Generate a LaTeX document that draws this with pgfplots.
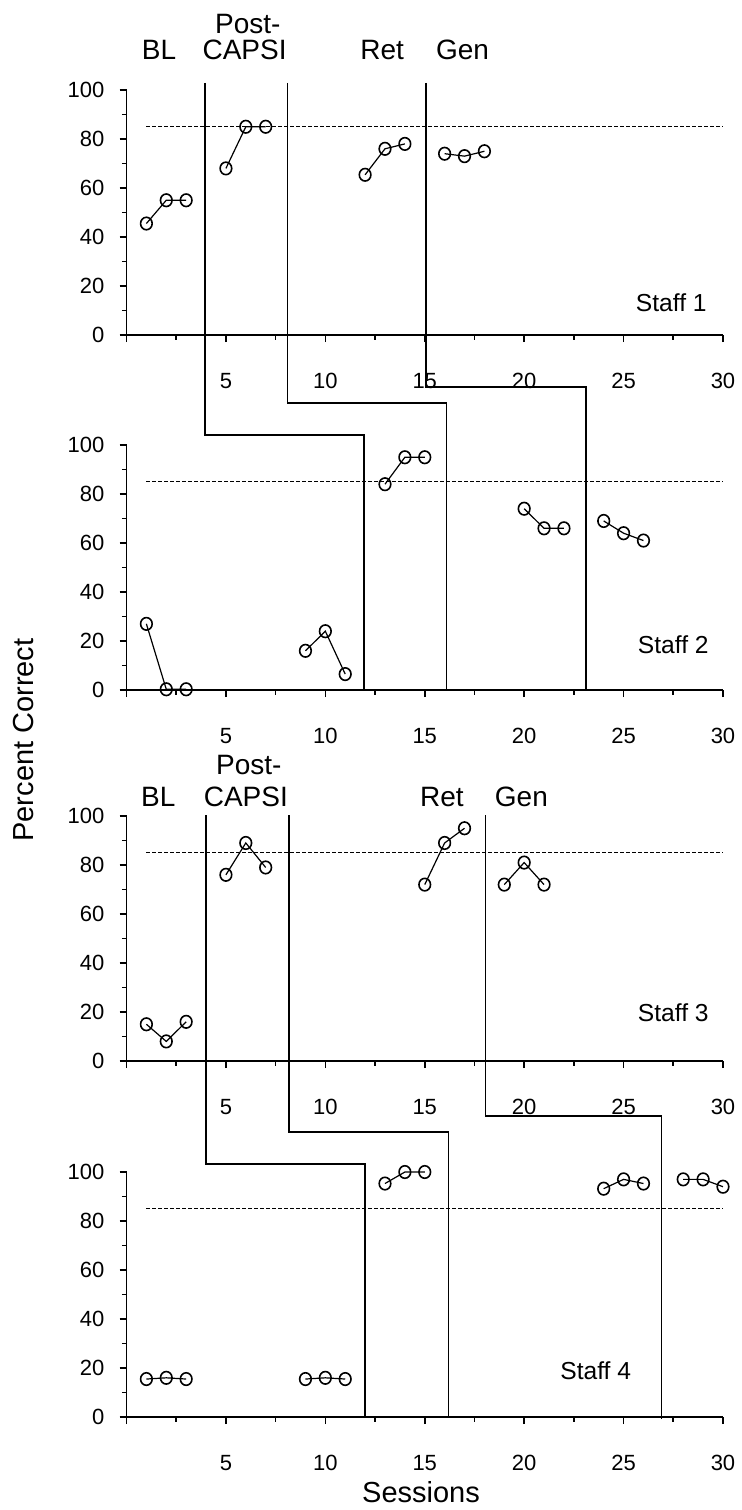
\documentclass[border=0pt]{standalone}
\usepackage{fontspec}
\setmainfont{Liberation Sans}
\usepackage{pgfplots}
\pgfplotsset{compat=1.18}

\newcommand\phasefont{\fontsize{14}{16}\selectfont}
\newcommand\stafffont{\fontsize{12.3}{14}\selectfont}
\newcommand\labfont{\fontsize{14.5}{17}\selectfont}

\tikzset{phase/.style={black, line width=0.8pt}}
\pgfplotsset{
  msb/.style={
    scale only axis, width=298.25pt, height=122.5pt,
    anchor=south west, clip=false,
    xmin=0, xmax=30, ymin=0, ymax=100,
    axis lines*=left, axis line style={line width=0.9pt},
    tick align=outside, tick style={black, line width=0.8pt},
    major tick length=3.5pt, minor tick length=2.3pt,
    xtick={0,5,...,30}, xticklabels={,5,10,15,20,25,30},
    minor xtick={2.5,7.5,...,27.5},
    ytick={0,20,...,100}, minor ytick={10,30,...,90},
    /pgf/number format/assume math mode=true,
    tick label style={font=\fontsize{11}{13}\selectfont},
    xticklabel style={anchor=base, yshift=-23pt},
    yticklabel style={anchor=east, xshift=-4pt},
  },
  pts/.style={black, line width=0.6pt, mark=o, mark size=2.9pt,
    mark options={solid, line width=0.8pt, yscale=1.08}},
  crit/.style={black, line width=0.55pt, dash pattern=on 2pt off 1pt},
}

\begin{document}
\begin{tikzpicture}
\useasboundingbox (0pt,0pt) rectangle (371pt,-755pt);

% ---- Staff 1 ----
\begin{axis}[msb, at={(63.25pt,-167.5pt)}]
\addplot[crit] coordinates {(1,85) (30,85)};
\addplot[pts] coordinates {(1,45.5) (2,55) (3,55)};
\addplot[pts] coordinates {(5,68) (6,85) (7,85)};
\addplot[pts] coordinates {(12,65.4) (13,76) (14,78)};
\addplot[pts] coordinates {(16,74) (17,73) (18,75)};
\node[anchor=base, font=\phasefont] at (axis cs:1.64,112.5) {BL};
\node[anchor=base, font=\phasefont] at (axis cs:6.1,123) {Post-};
\node[anchor=base, font=\phasefont] at (axis cs:5.94,112.5) {CAPSI};
\node[anchor=base, font=\phasefont] at (axis cs:12.86,112.5) {Ret};
\node[anchor=base, font=\phasefont] at (axis cs:16.9,112.5) {Gen};
\node[anchor=base, font=\stafffont] at (axis cs:27.4,9.5) {Staff 1};
\end{axis}

% ---- Staff 2 ---- (phase lines start in panel 1: +144.9 units up)
\begin{axis}[msb, at={(63.25pt,-345pt)}]
\addplot[crit] coordinates {(1,85) (30,85)};
\addplot[pts] coordinates {(1,27) (2,0.3) (3,0.3)};
\addplot[pts] coordinates {(9,16) (10,24) (11,6.5)};
\addplot[pts] coordinates {(13,84) (14,95) (15,95)};
\addplot[pts] coordinates {(20,74) (21,66) (22,66)};
\addplot[pts] coordinates {(24,69) (25,64) (26,61)};
\draw[phase] (axis cs:3.95,247.8) |- (axis cs:11.95,104.1) -- (axis cs:11.95,0);
\draw[phase] (axis cs:8.1,247.8) |- (axis cs:16.1,117.1) -- (axis cs:16.1,0);
\draw[phase] (axis cs:15.05,247.8) |- (axis cs:23.1,123.7) -- (axis cs:23.1,0);
\node[anchor=base, font=\stafffont] at (axis cs:27.5,15.1) {Staff 2};
\end{axis}

% ---- Staff 3 ----
\begin{axis}[msb, at={(63.25pt,-530.5pt)}]
\addplot[crit] coordinates {(1,85) (30,85)};
\addplot[pts] coordinates {(1,15) (2,8) (3,16)};
\addplot[pts] coordinates {(5,76) (6,89) (7,79)};
\addplot[pts] coordinates {(15,72) (16,89) (17,95)};
\addplot[pts] coordinates {(19,72) (20,81) (21,72)};
\node[anchor=base, font=\phasefont] at (axis cs:1.6,103.8) {BL};
\node[anchor=base, font=\phasefont] at (axis cs:6.15,117) {Post-};
\node[anchor=base, font=\phasefont] at (axis cs:6.0,103.8) {CAPSI};
\node[anchor=base, font=\phasefont] at (axis cs:15.86,103.8) {Ret};
\node[anchor=base, font=\phasefont] at (axis cs:19.86,103.8) {Gen};
\node[anchor=base, font=\stafffont] at (axis cs:27.5,16) {Staff 3};
\end{axis}

% ---- Staff 4 ---- (phase lines start in panel 3: +145.3 units up)
\begin{axis}[msb, at={(63.25pt,-708.5pt)}]
\addplot[crit] coordinates {(1,85) (30,85)};
\addplot[pts] coordinates {(1,15.5) (2,16) (3,15.5)};
\addplot[pts] coordinates {(9,15.5) (10,16) (11,15.5)};
\addplot[pts] coordinates {(13,95.3) (14,100) (15,100)};
\addplot[pts] coordinates {(24,93.2) (25,97) (26,95.3)};
\addplot[pts] coordinates {(28,97) (29,97) (30,94)};
\draw[phase] (axis cs:4.0,245.7) |- (axis cs:12.0,103.3) -- (axis cs:12.0,0);
\draw[phase] (axis cs:8.17,245.7) |- (axis cs:16.2,116.3) -- (axis cs:16.2,0);
\draw[phase] (axis cs:18.05,245.7) |- (axis cs:26.9,122.9) -- (axis cs:26.9,-1);
\node[anchor=base, font=\stafffont] at (axis cs:23.6,15.5) {Staff 4};
\end{axis}

\node[rotate=90, anchor=base, font=\labfont] at (16.5pt,-370pt) {Percent Correct};
\node[anchor=base, font=\labfont] at (210.5pt,-751pt) {Sessions};
\end{tikzpicture}
\end{document}
